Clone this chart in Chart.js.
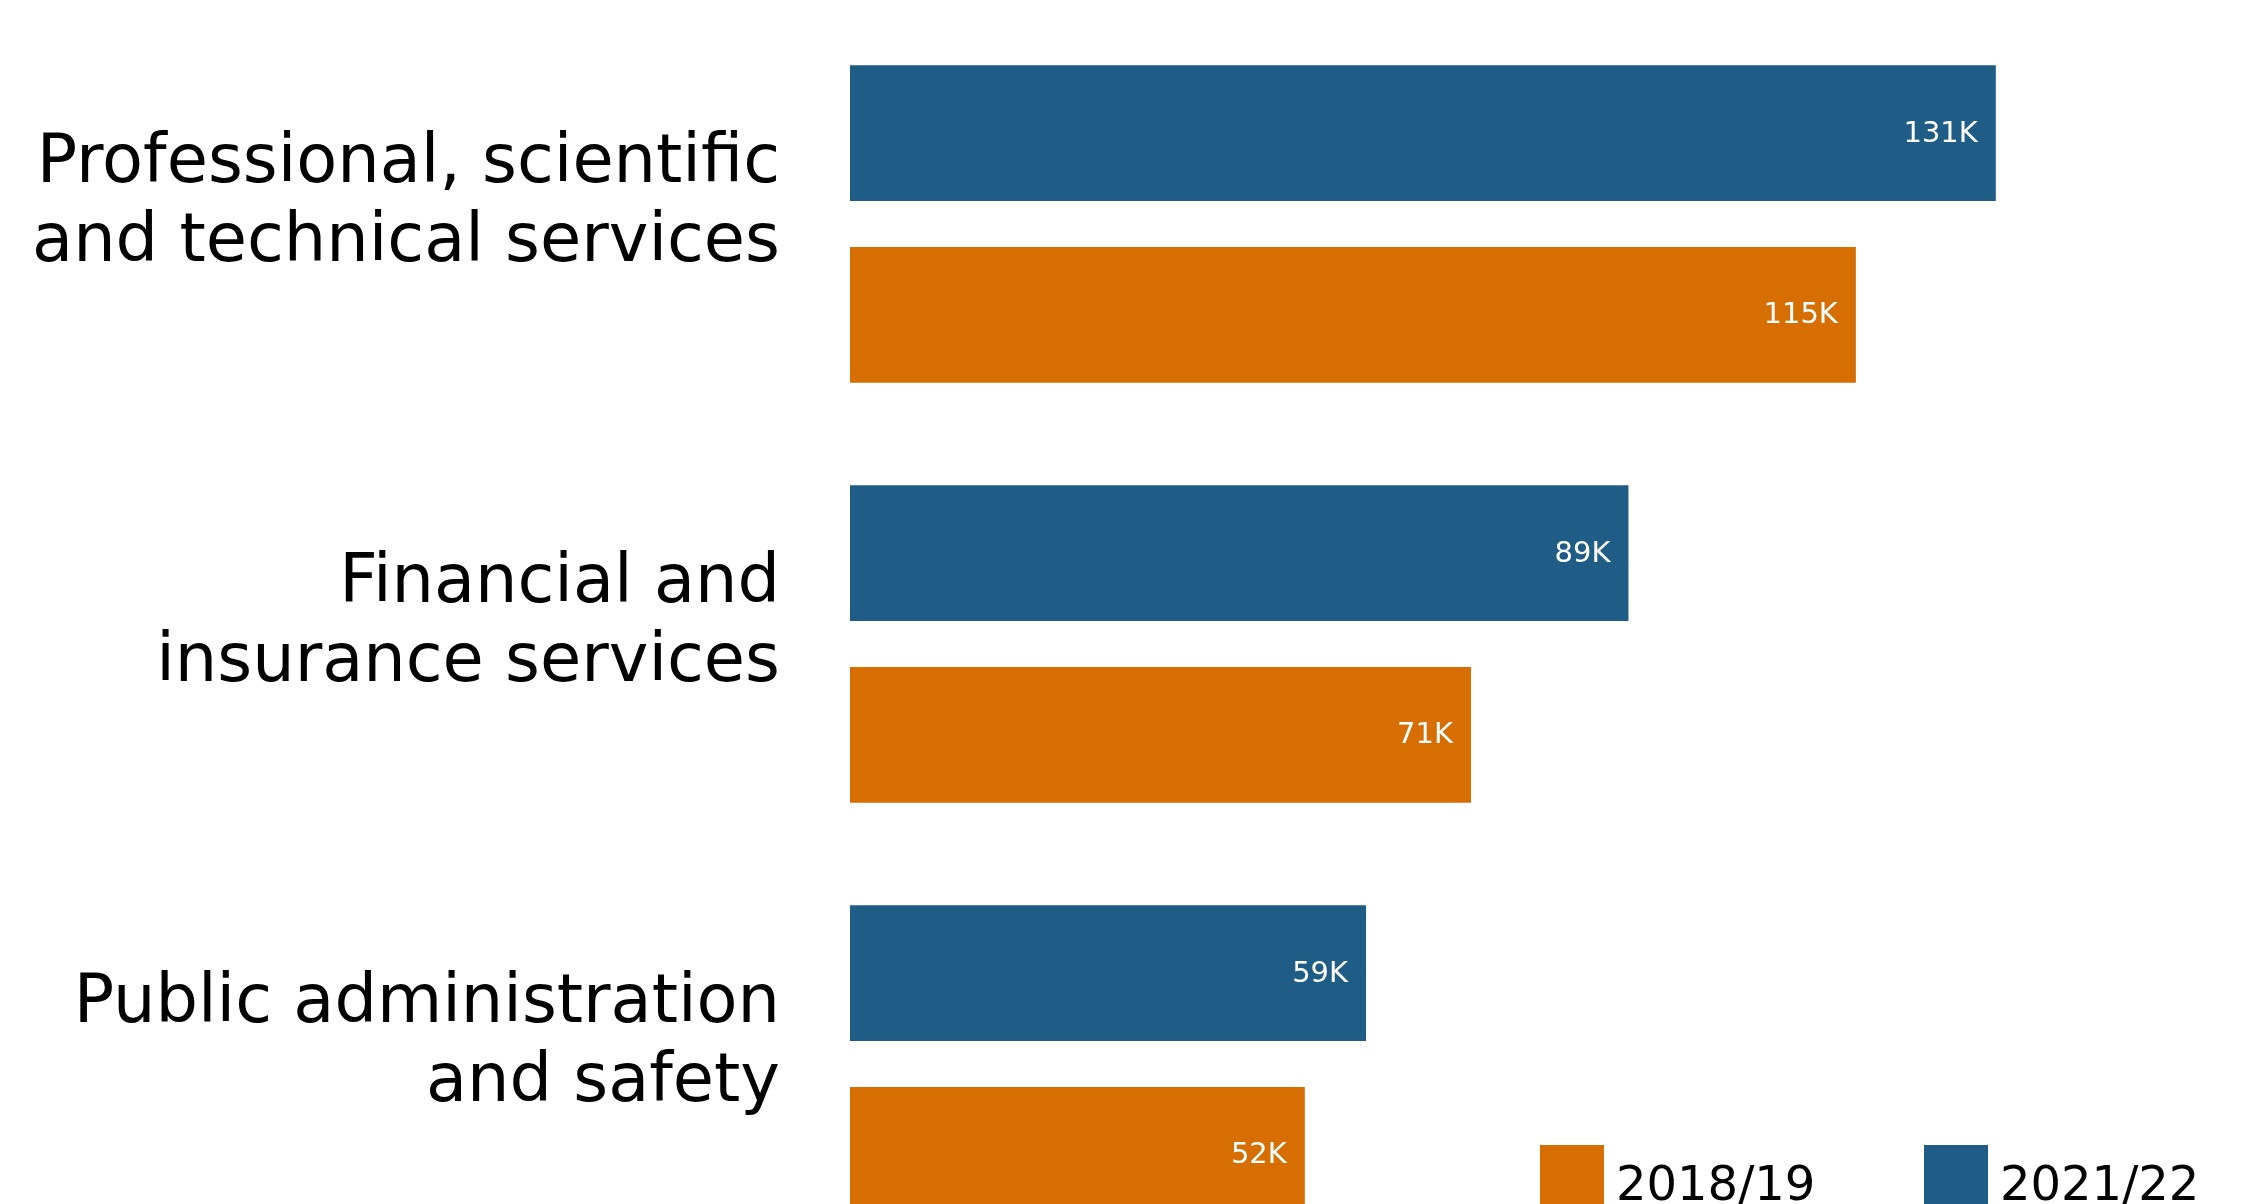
<!DOCTYPE html>
<html>
<head>
<meta charset="utf-8">
<script src="https://cdn.jsdelivr.net/npm/chart.js@4.4.0/dist/chart.umd.min.js"></script>
<style>
  html, body { margin: 0; padding: 0; background: #fff; }
  #moldura { width: 2248px; height: 1204px; overflow: hidden; }
</style>
</head>
<body>
<div id="moldura"><canvas id="grafico-setores" width="2248" height="1290"></canvas></div>
<script>
// Setores com mais empregos: 2018/19 x 2021/22 (milhares)
const setores = [
    ['Professional, scientific', 'and technical services'],
    ['Financial and', 'insurance services'],
    ['Public administration', 'and safety']
];
const periodos = ['2021/22', '2018/19'];
const valores2122 = [131, 89, 59];
const valores1819 = [115, 71, 52];
const cores = ['#1f5d87', '#d66e02'];

// Rótulo branco no fim de cada barra
const rotulosBarras = {
    id: 'rotulosBarras',
    afterDatasetsDraw(chart) {
        const ctx = chart.ctx;
        ctx.save();
        ctx.font = '29px "DejaVu Sans"';
        ctx.fillStyle = '#ffffff';
        ctx.textAlign = 'right';
        ctx.textBaseline = 'middle';
        chart.data.datasets.forEach((ds, i) => {
            chart.getDatasetMeta(i).data.forEach((barra, j) => {
                ctx.fillText(ds.data[j] + 'K', barra.x - 18, barra.y + 1);
            });
        });
        ctx.restore();
    }
};

// Legenda em linha no canto inferior direito (2018/19 primeiro)
const legendaRodape = {
    id: 'legendaRodape',
    afterDraw(chart) {
        const ctx = chart.ctx;
        ctx.save();
        ctx.font = '48px "DejaVu Sans"';
        ctx.textAlign = 'left';
        ctx.textBaseline = 'alphabetic';
        let x = 1540;
        chart.data.datasets.slice().reverse().forEach(ds => {
            ctx.fillStyle = ds.backgroundColor;
            ctx.fillRect(x, 1145, 64, 64);
            ctx.fillStyle = '#000000';
            ctx.fillText(ds.label, x + 76, 1200);
            x += 384;
        });
        ctx.restore();
    }
};

new Chart(document.getElementById('grafico-setores'), {
    type: 'bar',
    data: {
        labels: setores,
        datasets: [
            { label: periodos[0], data: valores2122, backgroundColor: cores[0] },
            { label: periodos[1], data: valores1819, backgroundColor: cores[1] }
        ]
    },
    options: {
        indexAxis: 'y',
        responsive: false,
        animation: false,
        layout: { padding: { top: 14, right: 86, bottom: 16, left: 0 } },
        datasets: { bar: { categoryPercentage: 0.866, barPercentage: 0.747 } },
        plugins: {
            legend: { display: false },
            tooltip: { enabled: false }
        },
        scales: {
            x: { display: false, min: 0, max: 150 },
            y: {
                grid: { display: false, drawTicks: false },
                border: { display: false },
                ticks: {
                    padding: 70,
                    labelOffset: -20,
                    color: '#000000',
                    font: { family: 'DejaVu Sans', size: 67, lineHeight: 1.17 }
                },
                // largura fixa do eixo e sem folga extra acima/abaixo dos rótulos
                afterFit(scale) {
                    scale.width = 850;
                    scale.paddingTop = 0;
                    scale.paddingBottom = 0;
                }
            }
        }
    },
    plugins: [rotulosBarras, legendaRodape]
});
</script>
</body>
</html>
